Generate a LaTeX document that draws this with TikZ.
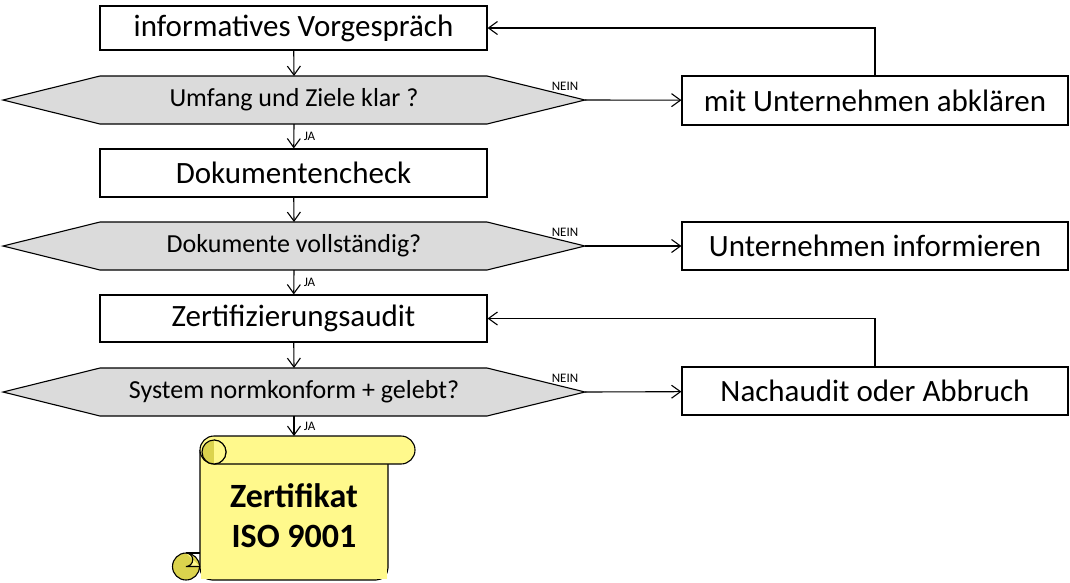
\documentclass[tikz,border=0pt]{standalone}
\usepackage{fontspec}
\setmainfont{Carlito}
\usetikzlibrary{arrows.meta}
\begin{document}
\begin{tikzpicture}[x=1pt,y=-1pt,
  box/.style={draw,line width=1.1pt,fill=white,font=\fontsize{31}{36}\selectfont},
  hex/.style={draw,line width=1.1pt,fill=black!14},
  htext/.style={font=\fontsize{26}{30}\selectfont},
  lab/.style={font=\fontsize{13}{15}\selectfont},
  nein/.style={lab,pos=0,anchor=south,xshift=-20pt,yshift=6pt},
  arr/.style={-{Straight Barb[length=9pt,width=13pt]},line width=1.1pt},
  curl/.style={line width=1.1pt,fill=olive!50!yellow!65}]
\useasboundingbox (0,0) rectangle (1070,582);
% left boxes
\node[box,minimum width=387,minimum height=44] (b1) at (293.5,28) {informatives Vorgespräch};
\node[box,minimum width=387,minimum height=48] (b2) at (293.5,173) {Dokumentencheck};
\node[box,minimum width=387,minimum height=47] (b3) at (293.5,318.5) {Zertifizierungsaudit};
% right boxes
\node[box,minimum width=386,minimum height=49] (r1) at (875,100.5) {mit Unternehmen abklären};
\node[box,minimum width=386,minimum height=48] (r2) at (875,246) {Unternehmen informieren};
\node[box,minimum width=386,minimum height=48] (r3) at (875,391) {Nachaudit oder Abbruch};
% hexagons
\foreach \n/\y/\t in {h1/100/{Umfang und Ziele klar ?},h2/246/{Dokumente vollständig?},h3/392/{System normkonform + gelebt?}}{
  \draw[hex] (3,\y) -- (100,\y-24) -- (487,\y-24) -- (585,\y) -- (487,\y+24) -- (100,\y+24) -- cycle;
  \node[htext] (\n) at (294,\y) {\t};
  \coordinate (\n r) at (585,\y);
  \coordinate (\n t) at (294,\y-24);
  \coordinate (\n b) at (294,\y+24);
}
% scroll
\coordinate (sc) at (294,436);
% body
\draw[line width=1.1pt,fill=yellow!45,rounded corners=12pt] (200,450) -- (200,580) -- (388,580) -- (388,455);
\fill[yellow!45] (201,465) rectangle (387,579);
% bottom curl
\draw[curl] (186,566.5) circle[radius=13.5];
\draw[line width=1.1pt] (186,553) -- (200,553);
\draw[line width=1.1pt,fill=yellow!45] (186,553) arc[start angle=-90,end angle=90,radius=6.75] -- (200,566.5);
% top band
\draw[line width=1.1pt,fill=yellow!45] (214,436) -- (401,436) arc[start angle=-90,end angle=90,radius=14] -- (214,464) arc[start angle=90,end angle=270,radius=14];
\draw[curl] (214,452) circle[radius=12];
\fill[yellow!45] (214,452) -- (214,440) arc[start angle=-90,end angle=90,radius=12] -- cycle;
\draw[line width=1.1pt] (214,440) arc[start angle=-90,end angle=90,radius=12];
\node[font=\fontsize{34}{40}\selectfont\bfseries,align=center] (cert) at (294,516) {Zertifikat\\ISO 9001};
% arrows
\draw[arr] (b1) -- (h1t);
\draw[arr] (h1b) -- (b2) node[lab,pos=0.5,right=6pt] {JA};
\draw[arr] (b2) -- (h2t);
\draw[arr] (h2b) -- (b3) node[lab,pos=0.5,right=6pt] {JA};
\draw[arr] (b3) -- (h3t);
\draw[arr] (h3b) -- (sc) node[lab,pos=0.5,right=6pt] {JA};
\draw[arr] (h1r) -- (r1) node[nein] {NEIN};
\draw[arr] (h2r) -- (r2) node[nein] {NEIN};
\draw[arr] (h3r) -- (r3) node[nein] {NEIN};
\draw[arr] (r1.north) -- (r1.north |- b1.east) -- (b1.east);
\draw[arr] (r3.north) -- (r3.north |- b3.east) -- (b3.east);
\end{tikzpicture}
\end{document}
